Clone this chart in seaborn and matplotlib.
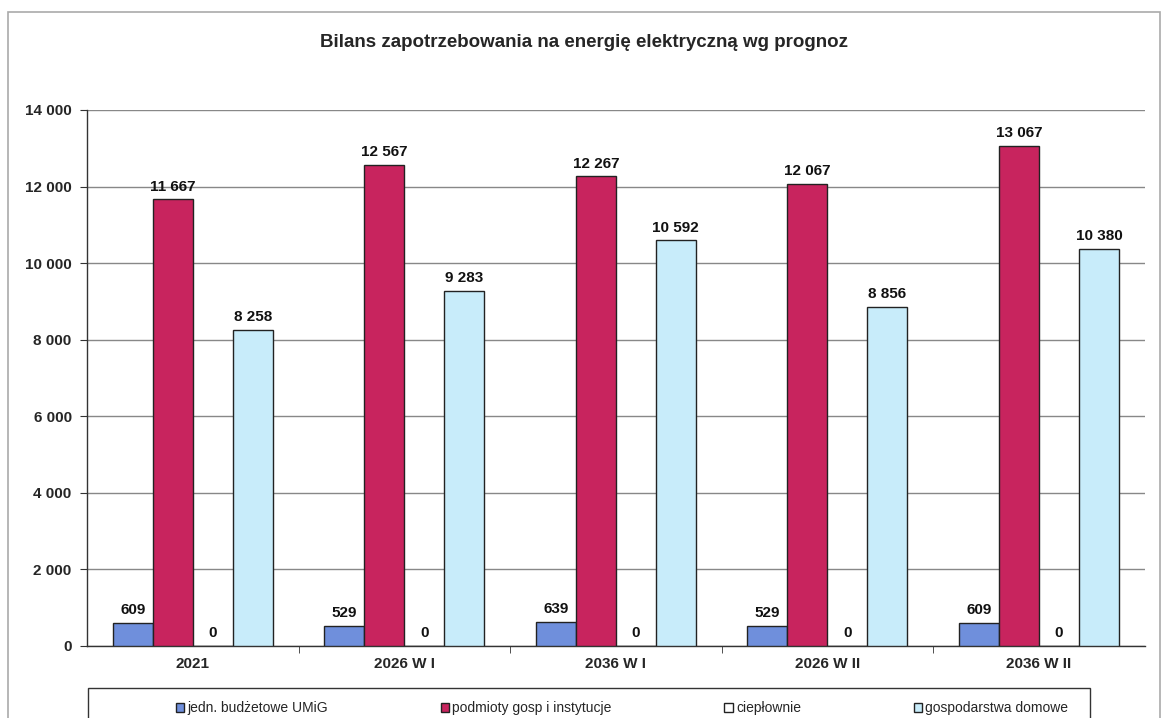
import matplotlib

matplotlib.use("Agg")

import pandas as pd
import seaborn as sns
from matplotlib import pyplot as plt
from matplotlib.patches import Rectangle

# Data
categories = ["2021", "2026 W I", "2036 W I", "2026 W II", "2036 W II"]
series_names = [
    "jedn. budżetowe UMiG",
    "podmioty gosp i instytucje",
    "ciepłownie",
    "gospodarstwa domowe",
]
budzetowe = [609, 529, 639, 529, 609]
podmioty = [11667, 12567, 12267, 12067, 13067]
cieplownie = [0, 0, 0, 0, 0]
gospodarstwa = [8258, 9283, 10592, 8856, 10380]
colors = ["#6f8fdc", "#c8245e", "#ffffff", "#c8ecfa"]

rows = []
for name, vals in zip(series_names, [budzetowe, podmioty, cieplownie, gospodarstwa]):
    for cat, v in zip(categories, vals):
        rows.append({"kategoria": cat, "seria": name, "wartosc": v})
df = pd.DataFrame(rows)

sns.set_style("white")
plt.rcParams["font.family"] = ["Liberation Sans", "DejaVu Sans"]

fig = plt.figure(figsize=(11.67, 7.18), dpi=100)
ax = fig.add_axes([0.0745, 0.1003, 0.9065, 0.7465])

sns.barplot(
    data=df,
    x="kategoria",
    y="wartosc",
    hue="seria",
    order=categories,
    hue_order=series_names,
    palette=colors,
    width=0.756,
    gap=0,
    edgecolor="#222222",
    linewidth=1.0,
    saturation=1,
    ax=ax,
    zorder=3,
    legend=True,
)

def fmt(v):
    return f"{int(round(v)):,}".replace(",", " ")

for container in ax.containers:
    ax.bar_label(
        container,
        labels=[fmt(b.get_height()) for b in container],
        padding=4,
        fontsize=11,
        fontweight="bold",
        color="#111111",
    )

ax.set_ylim(0, 14000)
ax.set_xlim(-0.5, 4.5)
ax.set_yticks(range(0, 14001, 2000))
ax.set_yticklabels([fmt(v) for v in range(0, 14001, 2000)], fontsize=11, fontweight="bold")
ax.set_xticks(range(len(categories)))
ax.set_xticklabels(categories, fontsize=11, fontweight="bold")
ax.set_xticks([i + 0.5 for i in range(len(categories) - 1)], minor=True)
ax.tick_params(axis="x", which="major", length=0, pad=8)
ax.tick_params(axis="x", which="minor", length=5, direction="out", color="#333333", bottom=True)
ax.tick_params(axis="y", length=5, direction="out", color="#333333", left=True, pad=6)
ax.set_xlabel("")
ax.set_ylabel("")
ax.yaxis.grid(True, color="#888888", linewidth=1.0, zorder=0)
ax.xaxis.grid(False)
for side in ["top", "right"]:
    ax.spines[side].set_visible(False)
for side in ["left", "bottom"]:
    ax.spines[side].set_color("#333333")
    ax.spines[side].set_linewidth(1.0)

fig.suptitle(
    "Bilans zapotrzebowania na energię elektryczną wg prognoz",
    y=0.952,
    fontsize=13.5,
    fontweight="bold",
)

handles, labels = ax.get_legend_handles_labels()
ax.get_legend().remove()
leg = fig.legend(
    handles,
    labels,
    loc="center",
    bbox_to_anchor=(622 / 1167, 1 - 708 / 718),
    ncol=4,
    frameon=False,
    fontsize=10,
    handlelength=0.6,
    handleheight=0.6,
    handletextpad=0.25,
    columnspacing=8.1,
    borderaxespad=0,
)
for h in leg.legend_handles:
    h.set_edgecolor("#222222")
    h.set_linewidth(1.0)

# legend box, cut by the bottom edge as in the reference
fig.patches.append(
    Rectangle(
        (88 / 1167, -0.05),
        1002 / 1167,
        0.05 + 30 / 718,
        transform=fig.transFigure,
        fill=False,
        edgecolor="#333333",
        linewidth=1.0,
    )
)

# outer chart frame
fig.patches.append(
    Rectangle(
        (8 / 1167, -0.05),
        1152 / 1167,
        1.05 - 12 / 718,
        transform=fig.transFigure,
        fill=False,
        edgecolor="#aaaaaa",
        linewidth=1.2,
    )
)

fig.savefig("out.png", dpi=100)
